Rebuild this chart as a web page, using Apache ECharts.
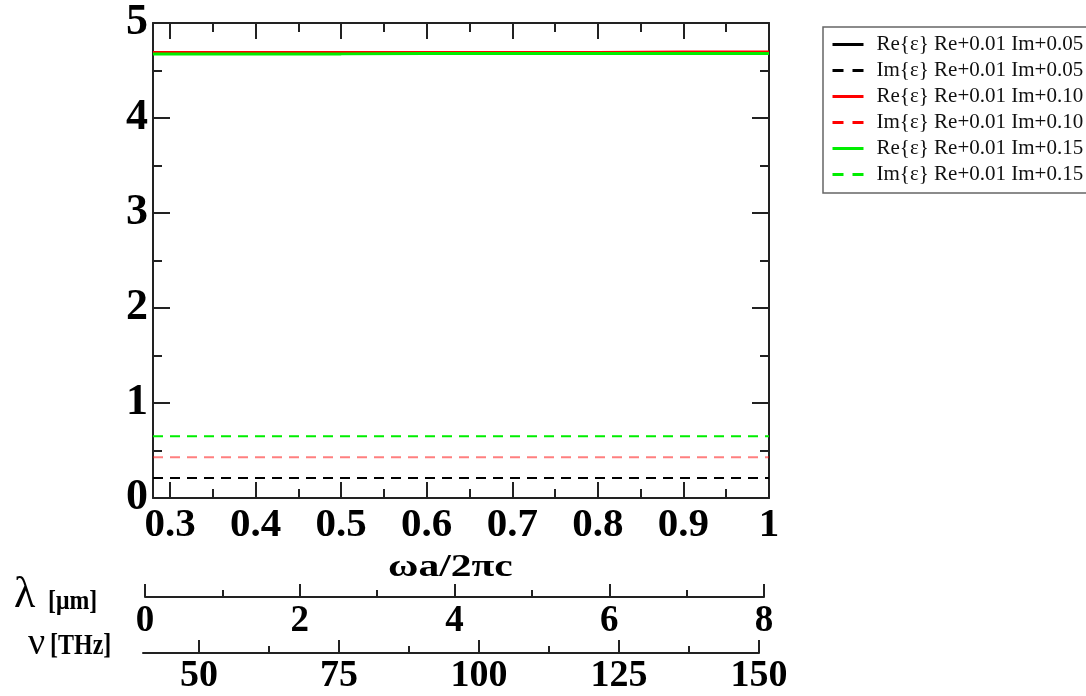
<!DOCTYPE html>
<html><head><meta charset="utf-8">
<script src="https://cdn.jsdelivr.net/npm/echarts@6/dist/echarts.min.js"></script>
<style>html,body{margin:0;padding:0;background:#fff}#c{width:1086px;height:696px}</style>
</head><body><div id="c"></div>
<script>
const freq = [0.28, 0.3, 0.4, 0.5, 0.6, 0.7, 0.8, 0.9, 1.0];
const reIm005 = [4.69, 4.69, 4.69, 4.69, 4.69, 4.69, 4.69, 4.69, 4.69];
const imIm005 = [0.21, 0.21, 0.21, 0.21, 0.21, 0.21, 0.21, 0.21, 0.21];
const reIm010 = [4.69, 4.69, 4.69, 4.69, 4.69, 4.69, 4.69, 4.695, 4.695];
const imIm010 = [0.43, 0.43, 0.43, 0.43, 0.43, 0.43, 0.43, 0.43, 0.43];
const reIm015 = [4.675, 4.675, 4.675, 4.675, 4.68, 4.68, 4.68, 4.68, 4.68];
const imIm015 = [0.65, 0.65, 0.65, 0.65, 0.65, 0.65, 0.65, 0.65, 0.65];
const seriesNames = ['Re{ε} Re+0.01 Im+0.05','Im{ε} Re+0.01 Im+0.05','Re{ε} Re+0.01 Im+0.10','Im{ε} Re+0.01 Im+0.10','Re{ε} Re+0.01 Im+0.15','Im{ε} Re+0.01 Im+0.15'];
const seriesColors = ['#000000', '#000000', '#ff0000', '#ff0000', '#00ee00', '#00ee00'];
const lambdaTicks = [0, 2, 4, 6, 8];
const nuMajor = [50, 75, 100, 125, 150];
const nuMinor = [62.5, 87.5, 112.5, 137.5];

const serif = "'Liberation Serif','DejaVu Serif',serif";
const AX = '#222';
const chart = echarts.init(document.getElementById('c'));
const pts = v => freq.map((f, i) => [f, v[i]]);
const mk = (i, vals, dashed, opacity) => ({
  name: seriesNames[i], type: 'line', xAxisIndex: 0, yAxisIndex: 0, data: pts(vals),
  symbol: 'none', silent: true, animation: false,
  lineStyle: { color: seriesColors[i], width: dashed ? 2 : 3, type: dashed ? [10, 7] : 'solid', opacity: opacity || 1 },
  itemStyle: { color: seriesColors[i] }
});
const hiddenY = g => ({ gridIndex: g, type: 'value', show: false, min: 0, max: 1 });

chart.setOption({
  animation: false,
  grid: [
    { left: 153, top: 23, width: 616, height: 475 },
    { left: 170, top: 23, width: 599, height: 475 },
    { left: 145, top: 596, width: 619, height: 1 },
    { left: 143, top: 652, width: 616, height: 1 }
  ],
  xAxis: [
    { gridIndex: 0, type: 'value', position: 'bottom', min: 0.28, max: 1,
      axisLine: { show: true, lineStyle: { color: AX, width: 2 } }, axisTick: { show: false }, axisLabel: { show: false }, splitLine: { show: false } },
    { gridIndex: 0, type: 'value', position: 'top', min: 0.28, max: 1,
      axisLine: { show: true, onZero: false, lineStyle: { color: AX, width: 2 } }, axisTick: { show: false }, axisLabel: { show: false }, splitLine: { show: false } },
    { gridIndex: 1, type: 'value', position: 'bottom', min: 0.3, max: 1, interval: 0.1,
      axisLine: { show: false }, splitLine: { show: false },
      axisTick: { show: true, inside: true, length: 16, lineStyle: { color: AX, width: 2 } },
      minorTick: { show: true, splitNumber: 2, length: 9, lineStyle: { color: AX, width: 2 } },
      axisLabel: { show: true, margin: 7, color: '#000', fontFamily: serif, fontWeight: 'bold', fontSize: 41,
        formatter: v => (Math.abs(v - 1) < 1e-9 ? '1' : v.toFixed(1)) } },
    { gridIndex: 1, type: 'value', position: 'top', min: 0.3, max: 1, interval: 0.1,
      axisLine: { show: false }, splitLine: { show: false }, axisLabel: { show: false },
      axisTick: { show: true, inside: true, length: 16, lineStyle: { color: AX, width: 2 } },
      minorTick: { show: true, splitNumber: 2, length: 9, lineStyle: { color: AX, width: 2 } } },
    { gridIndex: 2, type: 'value', position: 'bottom', min: 0, max: 8, interval: 2,
      axisLine: { show: true, onZero: false, lineStyle: { color: AX, width: 2 } }, splitLine: { show: false },
      axisTick: { show: true, inside: true, length: 13, lineStyle: { color: AX, width: 2 } },
      minorTick: { show: true, splitNumber: 2, length: 7, lineStyle: { color: AX, width: 2 } },
      axisLabel: { show: true, margin: 6, color: '#000', fontFamily: serif, fontWeight: 'bold', fontSize: 37, showMinLabel: true, showMaxLabel: true } },
    { gridIndex: 3, type: 'value', position: 'bottom', min: 40, max: 150,
      axisLine: { show: true, onZero: false, lineStyle: { color: AX, width: 2 } }, splitLine: { show: false },
      axisTick: { show: true, inside: true, length: 13, customValues: nuMajor, lineStyle: { color: AX, width: 2 } },
      axisLabel: { show: true, margin: 4, color: '#000', fontFamily: serif, fontWeight: 'bold', fontSize: 38, customValues: nuMajor } },
    { gridIndex: 3, type: 'value', position: 'bottom', min: 40, max: 150,
      axisLine: { show: false }, splitLine: { show: false }, axisLabel: { show: false },
      axisTick: { show: true, inside: true, length: 7, customValues: nuMinor, lineStyle: { color: AX, width: 2 } } }
  ],
  yAxis: [
    { gridIndex: 0, type: 'value', position: 'left', min: 0, max: 5, interval: 1,
      axisLine: { show: true, lineStyle: { color: AX, width: 2 } }, splitLine: { show: false },
      axisTick: { show: true, inside: true, length: 17, lineStyle: { color: AX, width: 2 } },
      minorTick: { show: true, splitNumber: 2, length: 9, lineStyle: { color: AX, width: 2 } },
      axisLabel: { show: true, margin: 5, color: '#000', fontFamily: serif, fontWeight: 'bold', fontSize: 44 } },
    { gridIndex: 0, type: 'value', position: 'right', min: 0, max: 5, interval: 1,
      axisLine: { show: true, onZero: false, lineStyle: { color: AX, width: 2 } }, splitLine: { show: false }, axisLabel: { show: false },
      axisTick: { show: true, inside: true, length: 17, lineStyle: { color: AX, width: 2 } },
      minorTick: { show: true, splitNumber: 2, length: 9, lineStyle: { color: AX, width: 2 } } },
    hiddenY(1), hiddenY(2), hiddenY(3)
  ],
  legend: {
    orient: 'vertical', left: 823, top: 27, width: 262,
    padding: [7, 30, 8, 8], itemGap: 5, itemWidth: 31, itemHeight: 14,
    borderColor: '#666', borderWidth: 1.5, backgroundColor: '#fff',
    textStyle: { fontFamily: serif, fontSize: 21, color: '#111', lineHeight: 20, padding: [0, 0, 0, 8] },
    itemStyle: { opacity: 0 },
    selectedMode: false,
    data: seriesNames.map((n, i) => ({
      name: n,
      itemStyle: { opacity: 0, color: 'rgba(0,0,0,0)', borderWidth: 0 },
      lineStyle: { color: seriesColors[i], width: 3, opacity: 1, type: i % 2 ? [11, 9] : 'solid' }
    }))
  },
  graphic: [
    { type: 'text', left: 388, top: 552, scaleX: 1.3, style: { text: 'ωa/2πc', font: "bold 32px 'Liberation Serif', serif", fill: '#000' } },
    { type: 'text', left: 14, top: 573, style: { text: 'λ', font: "44px 'Liberation Serif', serif", fill: '#000' } },
    { type: 'text', left: 48, top: 588, scaleX: 0.85, style: { text: '[μm]', font: "bold 28px 'Liberation Serif', serif", fill: '#000' } },
    { type: 'text', left: 28, top: 625, style: { text: 'ν', font: "38px 'Liberation Serif', serif", fill: '#000' } },
    { type: 'text', left: 50, top: 631, scaleX: 0.8, style: { text: '[THz]', font: "bold 30px 'Liberation Serif', serif", fill: '#000' } }
  ],
  series: [
    mk(0, reIm005, false),
    mk(1, imIm005, true),
    mk(2, reIm010, false),
    mk(3, imIm010, true, 0.5),
    mk(4, reIm015, false),
    mk(5, imIm015, true)
  ]
});
</script></body></html>
